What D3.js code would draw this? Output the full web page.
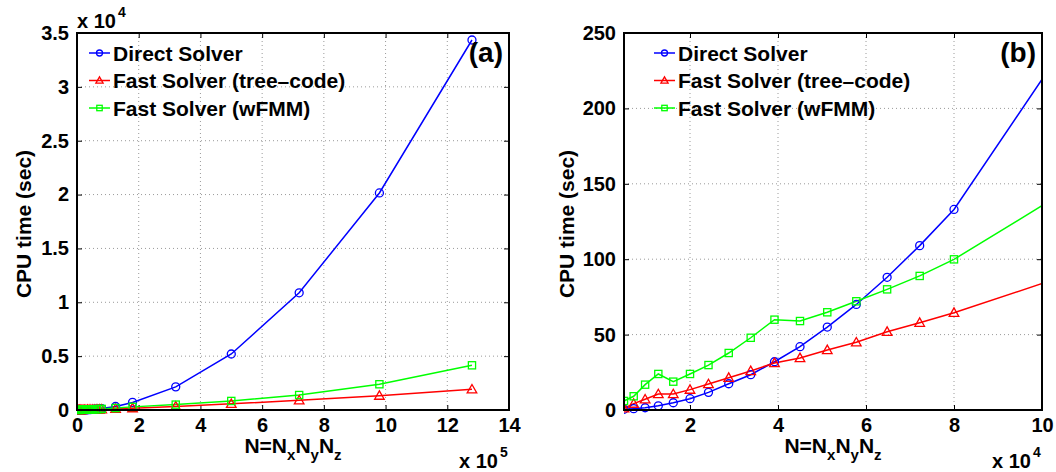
<!DOCTYPE html>
<html>
<head>
<meta charset="utf-8">
<script src="https://cdn.jsdelivr.net/npm/d3@7"></script>
<style>
  body { margin: 0; background: #fff; }
  text { font-family: "Liberation Sans", Arial, Helvetica, sans-serif; font-weight: bold; fill: #000; }
</style>
</head>
<body>
<svg id="chart" width="1056" height="472"></svg>
<script>
// ---- data ----
const problemSize = [5000, 7200, 9800, 12800, 16200, 20000, 24200, 28800, 33800, 39200, 45000, 51200, 57800, 64800, 72200, 80000, 125000, 180000, 320000, 500000, 720000, 980000, 1280000];
const directSolver = [0.5, 0.9, 1.5, 2.8, 4.8, 7.5, 11.7, 17.4, 23.4, 32, 42, 55, 70, 88, 109, 133, 327, 705, 2150, 5200, 10880, 20150, 34350];
const treeCode = [1.1, 4.2, 7.1, 10.6, 10.6, 13.5, 17.2, 21.4, 25.9, 31.2, 34.5, 39.8, 44.9, 51.9, 57.9, 64.5, 108, 170, 330, 570, 900, 1330, 1920];
const wFMM = [6.0, 9.1, 16.8, 23.9, 18.8, 23.9, 29.8, 37.8, 47.9, 59.9, 59.0, 64.8, 72.1, 80.0, 88.9, 99.9, 180, 290, 500, 840, 1390, 2390, 4150];
const seriesNames = ["Direct Solver", "Fast Solver (tree\u2013code)", "Fast Solver (wFMM)"];
const leftXTickLabels = [0, 2, 4, 6, 8, 10, 12, 14];      // x 10^5
const leftYTickLabels = [0, 0.5, 1, 1.5, 2, 2.5, 3, 3.5]; // x 10^4
const rightXTickLabels = [2, 4, 6, 8, 10];                // x 10^4
const rightYTickLabels = [0, 50, 100, 150, 200, 250];

const series = [
  { name: seriesNames[0], values: directSolver, color: "#0000ff", marker: "circle" },
  { name: seriesNames[1], values: treeCode, color: "#ff0000", marker: "triangle" },
  { name: seriesNames[2], values: wFMM, color: "#00ff00", marker: "square" }
];

const svg = d3.select("#chart");
svg.append("rect").attr("width", 1056).attr("height", 472).attr("fill", "#fff");

function drawMarker(g, type, x, y, color, size) {
  if (type === "circle") {
    g.append("circle").attr("cx", x).attr("cy", y).attr("r", size)
      .attr("fill", "none").attr("stroke", color).attr("stroke-width", 1.3);
  } else if (type === "square") {
    const s = size * 0.9;
    g.append("rect").attr("x", x - s).attr("y", y - s).attr("width", 2 * s).attr("height", 2 * s)
      .attr("fill", "none").attr("stroke", color).attr("stroke-width", 1.3);
  } else {
    const s = size * 1.2;
    g.append("path").attr("d", `M${x},${y - s}L${x + s},${y + s * 0.75}L${x - s},${y + s * 0.75}Z`)
      .attr("fill", "none").attr("stroke", color).attr("stroke-width", 1.3);
  }
}

function panel(cfg) {
  const x = d3.scaleLinear().domain(cfg.xDomain).range([cfg.x0, cfg.x1]);
  const y = d3.scaleLinear().domain(cfg.yDomain).range([cfg.y1, cfg.y0]);
  const xT = cfg.xTicks.map(v => v * cfg.xMul);
  const yT = cfg.yTicks.map(v => v * cfg.yMul);
  const g = svg.append("g");

  // grid
  const grid = g.append("g").attr("stroke", "#9a9a9a").attr("stroke-width", 1).attr("stroke-dasharray", "1,3");
  xT.forEach(v => { if (x(v) > cfg.x0 + 1 && x(v) < cfg.x1 - 1)
    grid.append("line").attr("x1", x(v)).attr("x2", x(v)).attr("y1", cfg.y0).attr("y2", cfg.y1); });
  yT.forEach(v => { if (y(v) > cfg.y0 + 1 && y(v) < cfg.y1 - 1)
    grid.append("line").attr("x1", cfg.x0).attr("x2", cfg.x1).attr("y1", y(v)).attr("y2", y(v)); });

  // axes (ticks inward)
  const fx = d => cfg.xTicks[xT.indexOf(d)];
  const fy = d => cfg.yTicks[yT.indexOf(d)];
  const axB = g.append("g").attr("transform", `translate(0,${cfg.y1})`)
    .call(d3.axisBottom(x).tickValues(xT).tickFormat(fx).tickSizeInner(-5).tickSizeOuter(0).tickPadding(8));
  const axL = g.append("g").attr("transform", `translate(${cfg.x0},0)`)
    .call(d3.axisLeft(y).tickValues(yT).tickFormat(fy).tickSizeInner(-5).tickSizeOuter(0).tickPadding(8));
  const axT = g.append("g").attr("transform", `translate(0,${cfg.y0})`)
    .call(d3.axisTop(x).tickValues(xT).tickFormat("").tickSizeInner(-5).tickSizeOuter(0));
  const axR = g.append("g").attr("transform", `translate(${cfg.x1},0)`)
    .call(d3.axisRight(y).tickValues(yT).tickFormat("").tickSizeInner(-5).tickSizeOuter(0));
  [axB, axL, axT, axR].forEach(a => {
    a.select(".domain").remove();
    a.selectAll("line").attr("stroke", "#000").attr("stroke-width", 1);
    a.selectAll("text").style("font-size", "20px").style("font-family", "'Liberation Sans', Arial, sans-serif")
      .style("font-weight", "bold").attr("fill", "#000");
  });

  // clip
  const cid = "clip" + cfg.id;
  svg.append("clipPath").attr("id", cid).append("rect")
    .attr("x", cfg.x0).attr("y", cfg.y0 - 6).attr("width", cfg.x1 - cfg.x0).attr("height", cfg.y1 - cfg.y0 + 12);
  const dg = g.append("g").attr("clip-path", `url(#${cid})`);
  const line = d3.line().x((d, i) => x(problemSize[i])).y(d => y(d));
  series.forEach(s => {
    dg.append("path").attr("d", line(s.values)).attr("fill", "none")
      .attr("stroke", s.color).attr("stroke-width", 1.5);
  });
  series.forEach(s => {
    const mg = dg.append("g");
    s.values.forEach((v, i) => drawMarker(mg, s.marker, x(problemSize[i]), y(v), s.color, 4));
  });

  // box
  g.append("rect").attr("x", cfg.x0).attr("y", cfg.y0).attr("width", cfg.x1 - cfg.x0)
    .attr("height", cfg.y1 - cfg.y0).attr("fill", "none").attr("stroke", "#000").attr("stroke-width", 2);

  // legend
  series.forEach((s, i) => {
    const cy = cfg.legY[i];
    g.append("line").attr("x1", cfg.legX).attr("x2", cfg.legX + 21).attr("y1", cy).attr("y2", cy)
      .attr("stroke", s.color).attr("stroke-width", 1.5);
    drawMarker(g, s.marker, cfg.legX + 10.5, cy, s.color, 3);
    g.append("text").attr("x", cfg.legX + 24).attr("y", cy + 7.5).style("font-size", "21px").text(s.name);
  });

  // panel label
  g.append("text").attr("x", cfg.x1 - 6).attr("y", 62).attr("text-anchor", "end")
    .style("font-size", "28px").text(cfg.tag);

  // y label
  g.append("text").attr("transform", `translate(${cfg.yLabX},224) rotate(-90)`)
    .attr("text-anchor", "middle").style("font-size", "21px").text("CPU time (sec)");

  // x label N=NxNyNz
  const xl = g.append("text").attr("x", (cfg.x0 + cfg.x1) / 2).attr("y", 453)
    .attr("text-anchor", "middle").style("font-size", "21px");
  xl.append("tspan").text("N=N");
  xl.append("tspan").attr("dy", 7).style("font-size", "15px").text("x");
  xl.append("tspan").attr("dy", -7).text("N");
  xl.append("tspan").attr("dy", 7).style("font-size", "15px").text("y");
  xl.append("tspan").attr("dy", -7).text("N");
  xl.append("tspan").attr("dy", 7).style("font-size", "15px").text("z");

  // exponent labels
  cfg.exps.forEach(e => {
    g.append("text").attr("x", e.x).attr("y", e.y).style("font-size", "20px").text("x 10");
    g.append("text").attr("x", e.x + 41).attr("y", e.y - 11).style("font-size", "14px").text(e.p);
  });
}

panel({
  id: "a", tag: "(a)",
  x0: 77, x1: 509, y0: 33, y1: 410,
  xDomain: [0, 1400000], yDomain: [0, 35000],
  xTicks: leftXTickLabels, xMul: 1e5, yTicks: leftYTickLabels, yMul: 1e4,
  legX: 89, legY: [53, 80.5, 108], yLabX: 31,
  exps: [{ x: 77, y: 28, p: "4" }, { x: 459, y: 468, p: "5" }]
});
panel({
  id: "b", tag: "(b)",
  x0: 624, x1: 1042, y0: 33, y1: 410,
  xDomain: [5000, 100000], yDomain: [0, 250],
  xTicks: rightXTickLabels, xMul: 1e4, yTicks: rightYTickLabels, yMul: 1,
  legX: 654, legY: [53, 80.5, 108], yLabX: 574,
  exps: [{ x: 992, y: 468, p: "4" }]
});
</script>
</body>
</html>
